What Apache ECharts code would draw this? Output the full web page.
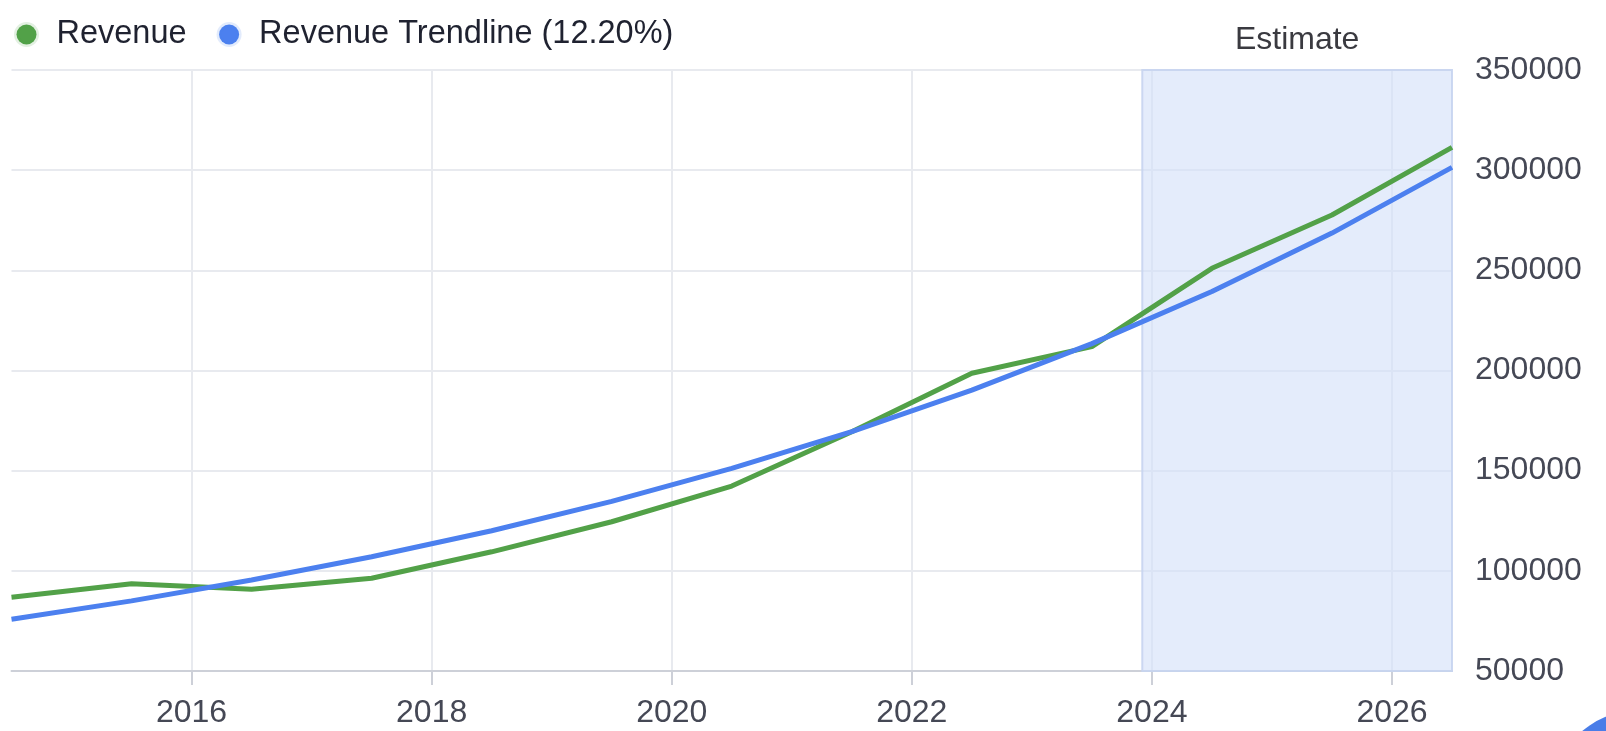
<!DOCTYPE html>
<html>
<head>
  <meta charset="utf-8">
  <title>Revenue</title>
  <script src="https://cdn.jsdelivr.net/npm/echarts@6/dist/echarts.min.js"></script>
  <style>
    html, body { margin: 0; padding: 0; background: #fff; }
    #chart { width: 1606px; height: 731px; }
  </style>
</head>
<body>
<div id="chart"></div>
<script type="text/javascript">
  // mid-year points
  let years = [2014.5, 2015.5, 2016.5, 2017.5, 2018.5, 2019.5, 2020.5, 2021.5, 2022.5, 2023.5, 2024.5, 2025.5, 2026.5];
  let revenue = [86800, 93600, 90800, 96300, 109500, 124500, 142300, 169400, 198600, 211900, 251000, 277600, 311400];
  let trendline = [75800, 85000, 95400, 107000, 120000, 134700, 151100, 169500, 190200, 213400, 239400, 268600, 301400];
  let yearTicks = [2016, 2018, 2020, 2022, 2024, 2026];
  let estimateRange = [2023.92, 2026.5];

  let font = 'Liberation Sans, Arial, sans-serif';
  let myChart = echarts.init(document.getElementById('chart'));

  myChart.setOption({
    animation: false,
    legend: {
      left: 9,
      top: 13,
      itemWidth: 20,
      itemHeight: 20,
      itemGap: 30,
      icon: 'circle',
      textStyle: { fontFamily: font, fontSize: 32.5, color: '#1f2230', padding: [0, 0, 0, 15] },
      data: [
        { name: 'Revenue', itemStyle: { color: '#52a148', borderColor: 'rgba(82,161,72,0.16)', borderWidth: 5 } },
        { name: 'Revenue Trendline (12.20%)', itemStyle: { color: '#4c80ef', borderColor: 'rgba(76,128,239,0.16)', borderWidth: 5 } }
      ]
    },
    grid: { left: 11.5, right: 154, top: 70, bottom: 60, outerBoundsMode: 'none' },
    xAxis: {
      type: 'value',
      min: 2014.5,
      max: 2026.5,
      axisLine: { lineStyle: { color: '#cdd0d8', width: 2 } },
      axisTick: { show: true, length: 14, customValues: yearTicks, lineStyle: { color: '#cdd0d8', width: 2 } },
      axisLabel: { customValues: yearTicks, margin: 26, fontFamily: font, fontSize: 32, color: '#454855', formatter: v => String(v) },
      splitLine: { show: true, lineStyle: { color: '#e8eaef', width: 2 } }
    },
    yAxis: {
      type: 'value',
      position: 'right',
      min: 50000,
      max: 350000,
      interval: 50000,
      axisLine: { show: false },
      axisTick: { show: false },
      axisLabel: { margin: 23, fontFamily: font, fontSize: 32, color: '#454855', formatter: v => String(v) },
      splitLine: { lineStyle: { color: '#e8eaef', width: 2 } }
    },
    series: [
      {
        name: 'Revenue',
        type: 'line',
        showSymbol: false,
        color: '#52a148',
        lineStyle: { width: 5, color: '#52a148' },
        data: years.map((y, i) => [y, revenue[i]]),
        markArea: {
          silent: true,
          itemStyle: { color: 'rgba(210,224,248,0.6)', borderColor: 'rgba(198,212,240,0.9)', borderWidth: 2 },
          label: { show: true, position: 'top', distance: 13, fontFamily: font, fontSize: 32, color: '#3a3a40' },
          data: [[{ name: 'Estimate', xAxis: estimateRange[0] }, { xAxis: estimateRange[1] }]]
        }
      },
      {
        name: 'Revenue Trendline (12.20%)',
        type: 'line',
        showSymbol: false,
        color: '#4c80ef',
        lineStyle: { width: 5, color: '#4c80ef' },
        data: years.map((y, i) => [y, trendline[i]])
      }
    ],
    graphic: [
      { type: 'circle', shape: { cx: 1640, cy: 800, r: 90 }, style: { fill: '#4a7de8' }, silent: true }
    ]
  });
</script>
</body>
</html>
